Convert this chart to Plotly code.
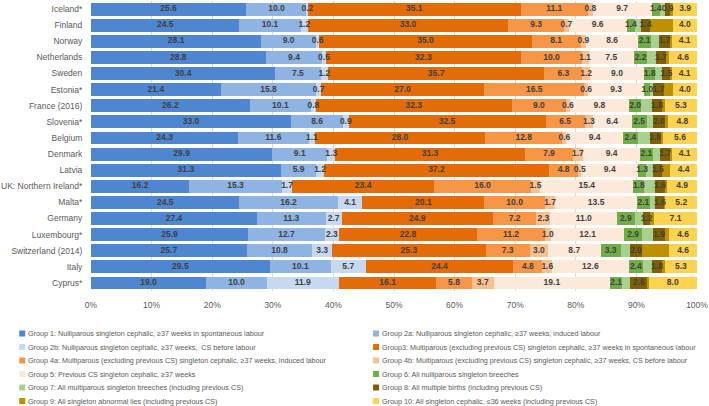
import plotly.graph_objects as go

countries = ["Iceland*", "Finland", "Norway", "Netherlands", "Sweden", "Estonia*",
             "France (2016)", "Slovenia*", "Belgium", "Denmark", "Latvia",
             "UK: Northern Ireland*", "Malta*", "Germany", "Luxembourg*",
             "Switzerland (2014)", "Italy", "Cyprus*"]

g1  = [25.6, 24.5, 28.1, 28.8, 30.4, 21.4, 26.2, 33.0, 24.3, 29.9, 31.3, 16.2, 24.5, 27.4, 25.9, 25.7, 29.5, 19.0]
g2a = [10.0, 10.1, 9.0, 9.4, 7.5, 15.8, 10.1, 8.6, 11.6, 9.1, 5.9, 15.3, 16.2, 11.3, 12.7, 10.8, 10.1, 10.0]
g2b = [0.2, 1.2, 0.6, 0.5, 1.2, 0.7, 0.8, 0.9, 1.1, 1.3, 1.2, 1.7, 4.1, 2.7, 2.3, 3.3, 5.7, 11.9]
g3  = [35.1, 33.0, 35.0, 32.3, 35.7, 27.0, 32.3, 32.5, 28.0, 31.3, 37.2, 23.4, 20.1, 24.9, 22.8, 25.3, 24.4, 16.1]
g4a = [11.1, 9.3, 8.1, 10.0, 6.3, 16.5, 9.0, 6.5, 12.8, 7.9, 4.8, 16.0, 10.0, 7.2, 11.2, 7.3, 4.8, 5.8]
g4b = [0.8, 0.7, 0.9, 1.1, 1.2, 0.6, 0.6, 1.3, 0.6, 1.7, 0.5, 1.5, 1.7, 2.3, 1.0, 3.0, 1.6, 3.7]
g5  = [9.7, 9.6, 8.6, 7.5, 9.0, 9.3, 9.8, 6.4, 9.4, 9.4, 9.4, 15.4, 13.5, 11.0, 12.1, 8.7, 12.6, 19.1]
g6  = [1.4, 1.4, 2.1, 2.2, 1.8, 1.0, 2.0, 2.5, 2.4, 2.1, 1.3, 1.8, 2.1, 2.9, 2.9, 3.3, 2.4, 2.1]
g7  = [0.8, 1.0, 1.4, 1.4, 1.1, 0.5, 1.7, 1.0, 2.0, 1.2, 1.2, 1.8, 0.9, 1.4, 1.9, 1.5, 1.4, 1.3]
g8  = [0.9, 1.4, 1.7, 1.7, 1.5, 1.7, 1.8, 2.0, 1.8, 1.7, 1.5, 1.6, 1.6, 1.2, 1.9, 2.0, 1.8, 2.8]
g9  = [0.5, 3.8, 0.4, 0.5, 0.2, 1.5, 0.4, 0.5, 0.4, 0.3, 1.3, 0.4, 0.1, 0.6, 0.7, 4.5, 0.4, 0.2]
g10 = [3.9, 4.0, 4.1, 4.6, 4.1, 4.0, 5.3, 4.8, 5.6, 4.1, 4.4, 4.9, 5.2, 7.1, 4.6, 4.6, 5.3, 8.0]

x_ticks = [0, 10, 20, 30, 40, 50, 60, 70, 80, 90, 100]
x_tick_labels = ["0%", "10%", "20%", "30%", "40%", "50%", "60%", "70%", "80%", "90%", "100%"]

groups = [
    ("Group 1: Nulliparous singleton cephalic, ≥37 weeks in spontaneous labour", g1, "#4E86D0", True),
    ("Group 2a: Nulliparous singleton cephalic, ≥37 weeks, induced labour", g2a, "#8EB4E3", True),
    ("Group 2b: Nulliparous singleton cephalic, ≥37 weeks,  CS before labour", g2b, "#C6D9F1", True),
    ("Group3: Multiparous (excluding previous CS) singleton cephalic, ≥37 weeks in spontaneous labour", g3, "#E36C09", True),
    ("Group 4a: Multiparous (excluding previous CS) singleton cephalic, ≥37 weeks, induced labour", g4a, "#F79646", True),
    ("Group 4b: Multiparous (excluding previous CS) singleton cephalic, ≥37 weeks, CS before labour", g4b, "#FAC090", True),
    ("Group 5: Previous CS singleton cephalic, ≥37 weeks", g5, "#FDE9D9", True),
    ("Group 6: All nulliparous singleton breeches", g6, "#70AD47", True),
    ("Group 7: All multiparous singleton breeches (including previous CS)", g7, "#A9D18E", False),
    ("Group 8: All multiple births (including previous CS)", g8, "#7F6000", True),
    ("Group 9: All singleton abnormal lies (including previous CS)", g9, "#BF9000", False),
    ("Group 10: All singleton cephalic, ≤36 weeks (including previous CS)", g10, "#FFD34F", True),
]

W, H = 709, 406
ML, MR, MT, MB = 90, 11, 1, 115
pw, ph = W - ML - MR, H - MT - MB

fig = go.Figure()

# stacked bars
for name, vals, color, show in groups:
    fig.add_trace(go.Bar(
        y=countries, x=vals, name=name, orientation="h",
        marker=dict(color=color, line=dict(width=0)),
        showlegend=False, hoverinfo="name+x",
    ))

# value labels on top of all bars (at segment centres), like Excel draws them
base = [0.0] * len(countries)
for name, vals, color, show in groups:
    mids = [b + v / 2 for b, v in zip(base, vals)]
    if show:
        fig.add_trace(go.Scatter(
            x=mids, y=countries, mode="text",
            text=[f"{v:.1f}" for v in vals],
            textfont=dict(family="Liberation Sans", size=8.5, color="#404040", weight="bold"),
            showlegend=False, hoverinfo="skip",
        ))
    base = [b + v for b, v in zip(base, vals)]

# legend drawn by hand: two columns, Excel style
def px_x(p):
    return (p - ML) / pw

def px_y(p):
    return (H - MB - p) / ph

row_y = [333.5, 347, 360.5, 374, 387.5, 401]
col_x = [18, 373]
for i, (name, vals, color, show) in enumerate(groups):
    cx = col_x[i % 2]
    cy = row_y[i // 2]
    fig.add_shape(type="rect", xref="paper", yref="paper",
                  x0=px_x(cx), x1=px_x(cx + 6), y0=px_y(cy + 3), y1=px_y(cy - 3),
                  fillcolor=color, line=dict(width=0))
    fig.add_annotation(xref="paper", yref="paper", x=px_x(cx + 7), y=px_y(cy),
                       xanchor="left", yanchor="middle", showarrow=False, text=name,
                       font=dict(family="Liberation Sans", size=7.2, color="#595959"))

fig.update_layout(
    barmode="stack", bargap=0.2,
    width=W, height=H,
    margin=dict(l=ML, r=MR, t=MT, b=MB),
    plot_bgcolor="white", paper_bgcolor="white",
    font=dict(family="Liberation Sans", color="#595959"),
    showlegend=False,
    xaxis=dict(range=[0, 100], tickmode="array", tickvals=x_ticks, ticktext=x_tick_labels,
               showgrid=True, gridcolor="#D9D9D9", zeroline=False,
               tickfont=dict(size=8.5), ticklabeloverflow="allow",
               ticks="outside", ticklen=6, tickcolor="white"),
    yaxis=dict(categoryorder="array", categoryarray=countries,
               range=[len(countries) - 0.5, -0.5], tickfont=dict(size=8.5),
               ticks="outside", ticklen=6, tickcolor="white"),
)

fig.write_html("out.html", config={"displayModeBar": False},
               post_script="document.body.style.margin='0';")
